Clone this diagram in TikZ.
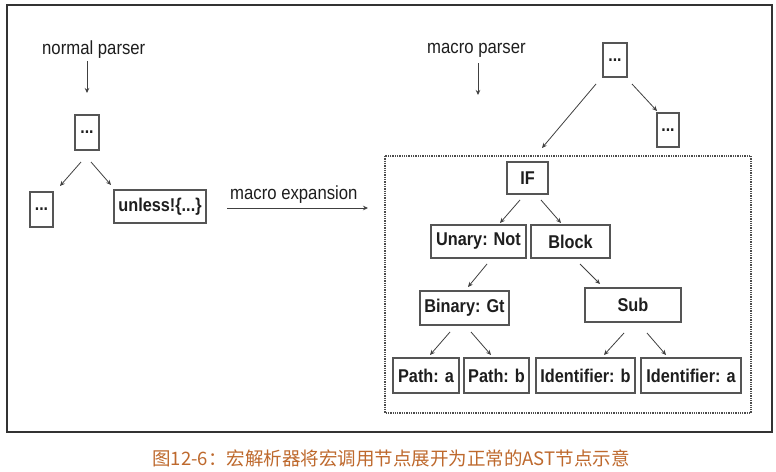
\documentclass[tikz,border=0pt]{standalone}
\usepackage{fontspec}
\setmainfont{Liberation Sans}[FakeStretch=0.88]
\newfontfamily\capfont{Noto Sans CJK SC}
\usetikzlibrary{arrows.meta}
\definecolor{boxline}{RGB}{85,85,85}
\definecolor{txt}{RGB}{30,30,30}
\definecolor{capcol}{RGB}{190,105,45}
\tikzset{
  tbox/.style={draw=boxline, line width=1.3pt, rectangle, inner sep=0pt, text=txt,
    font=\fontsize{18.5}{20}\selectfont\bfseries},
  dotbox/.style={tbox, font=\fontsize{18}{20}\selectfont\bfseries},
  lbl/.style={inner sep=0pt, text=txt, font=\fontsize{19}{21}\selectfont},
  arr/.style={draw=black!75, line width=0.8pt, -{Stealth[length=5pt,width=4.5pt]}},
}
\begin{document}
\begin{tikzpicture}[x=1pt,y=-1pt]
\useasboundingbox (0,0) rectangle (776,471);
\fill[white] (0,0) rectangle (776,471);
% outer frame
\draw[black!80, line width=2.2pt] (7,5) rectangle (772,432);
% dotted region
\draw[black!70, line width=1.3pt, densely dotted] (385,156) rectangle (751,413);

% labels
\node[lbl, anchor=base west] (np) at (42,54) {normal parser};
\node[lbl, anchor=base west] (mp) at (427,53) {macro parser};
\node[lbl, anchor=base west] (mx) at (230,199) {macro expansion};

% left tree
\node[dotbox, minimum width=24pt, minimum height=35pt] (n0) at (87,132.5) {...};
\node[dotbox, minimum width=23pt, minimum height=35pt] (nl) at (41.5,209.5) {...};
\node[tbox, minimum width=92pt, minimum height=33pt] (un) at (160,206.5) {unless!\{...\}};

% right tree
\node[dotbox, minimum width=24pt, minimum height=34pt] (m0) at (615,60) {...};
\node[dotbox, minimum width=22pt, minimum height=34pt] (mr) at (668,130) {...};
\node[tbox, minimum width=41pt, minimum height=32pt] (if) at (527.5,178) {IF};
\node[tbox, minimum width=95pt, minimum height=33pt] (unot) at (478.5,241.5) {Unary: Not};
\node[tbox, minimum width=79pt, minimum height=33pt] (blk) at (570.5,241.5) {Block};
\node[tbox, minimum width=89pt, minimum height=34pt] (bgt) at (464.5,308) {Binary: Gt};
\node[tbox, minimum width=96pt, minimum height=34pt] (sub) at (633,305) {Sub};
\node[tbox, minimum width=66pt, minimum height=35pt] (pa) at (426,375.5) {Path: a};
\node[tbox, minimum width=65pt, minimum height=35pt] (pb) at (496.5,375.5) {Path: b};
\node[tbox, minimum width=99pt, minimum height=35pt] (ib) at (585.5,375.5) {Identifier: b};
\node[tbox, minimum width=100pt, minimum height=35pt] (ia) at (691,375.5) {Identifier: a};

% connector end points
\coordinate (a1s) at (87,61);   \coordinate (a1e) at (87,93);
\coordinate (a2s) at (81,162);  \coordinate (a2e) at (60,186);
\coordinate (a3s) at (91,162);  \coordinate (a3e) at (111,185);
\coordinate (a4s) at (227,208); \coordinate (a4e) at (368,208);
\coordinate (a5s) at (478,63);  \coordinate (a5e) at (478,95);
\coordinate (a6s) at (596,84);  \coordinate (a6e) at (542,148);
\coordinate (a7s) at (632,84);  \coordinate (a7e) at (657,111);
\coordinate (a8s) at (520,200); \coordinate (a8e) at (500,223);
\coordinate (a9s) at (541,200); \coordinate (a9e) at (561,223);
\coordinate (a10s) at (487,264); \coordinate (a10e) at (468,287);
\coordinate (a11s) at (580,264); \coordinate (a11e) at (600,284);
\coordinate (a12s) at (450,332); \coordinate (a12e) at (430,355);
\coordinate (a13s) at (471,332); \coordinate (a13e) at (491,355);
\coordinate (a14s) at (624,333); \coordinate (a14e) at (604,355);
\coordinate (a15s) at (647,333); \coordinate (a15e) at (666,355);

\foreach \i in {1,...,15} { \draw[arr] (a\i s) -- (a\i e); }

% caption
\node[inner sep=0pt, text=capcol, font=\capfont\fontsize{18.5}{21}\selectfont] (cap) at (391,458)
  {图12-6：宏解析器将宏调用节点展开为正常的AST节点示意};
\end{tikzpicture}
\end{document}
